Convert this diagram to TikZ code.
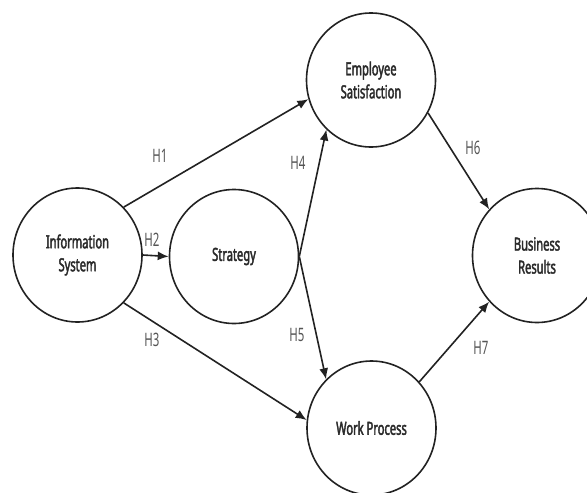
\documentclass[tikz,border=0pt]{standalone}
\usepackage{fontspec}
\usetikzlibrary{shapes.geometric,arrows.meta}
\newfontfamily\diagfont[FakeStretch=0.62]{Noto Sans}
\newfontfamily\diagbold[FakeStretch=0.62, FakeBold=2.2]{Noto Sans}
\definecolor{linec}{HTML}{222222}
\definecolor{textc}{HTML}{2a2a2a}
\definecolor{labc}{HTML}{555555}
\tikzset{
  construct/.style={ellipse, draw=linec, line width=1.6pt, minimum width=129pt, minimum height=134pt, inner sep=0pt,
    align=center, text=textc, font=\diagbold\fontsize{18}{23}\selectfont},
  path/.style={draw=linec, line width=1.6pt, -{Latex[length=11pt,width=9pt]}},
  hlab/.style={text=labc, font=\diagfont\fontsize{18.5}{22}\selectfont, inner sep=0pt}
}
\begin{document}
\begin{tikzpicture}[x=1pt,y=-1pt]
\useasboundingbox (0,0) rectangle (587,493);
\clip (0,0) rectangle (587,493);
\node[construct] (IS) at (77.5,255) {Information\\System};
\node[construct] (ST) at (234,256.5) {Strategy};
\node[construct] (ES) at (371,80) {Employee\\Satisfaction};
\node[construct] (WP) at (371.5,428) {Work Process};
\node[construct] (BR) at (537,255.5) {Business\\Results};
\draw[path] (IS.46.5) -- (ES.197);
\draw[path] (IS.east) -- (ST.west);
\draw[path] (IS.-46) -- (WP.173);
\draw[path] (ST.east) -- (ES.228);
\draw[path] (ST.east) -- (WP.133.5);
\draw[path] (ES.-30) -- (BR.136.5);
\draw[path] (WP.44) -- (BR.224.7);
\node[hlab] (h1) at (160,156) {H1};
\node[hlab] (h2) at (152,240) {H2};
\node[hlab] (h3) at (152,340) {H3};
\node[hlab] (h4) at (298,163) {H4};
\node[hlab] (h5) at (297,335) {H5};
\node[hlab] (h6) at (473,148) {H6};
\node[hlab] (h7) at (481,348) {H7};
\end{tikzpicture}
\end{document}
